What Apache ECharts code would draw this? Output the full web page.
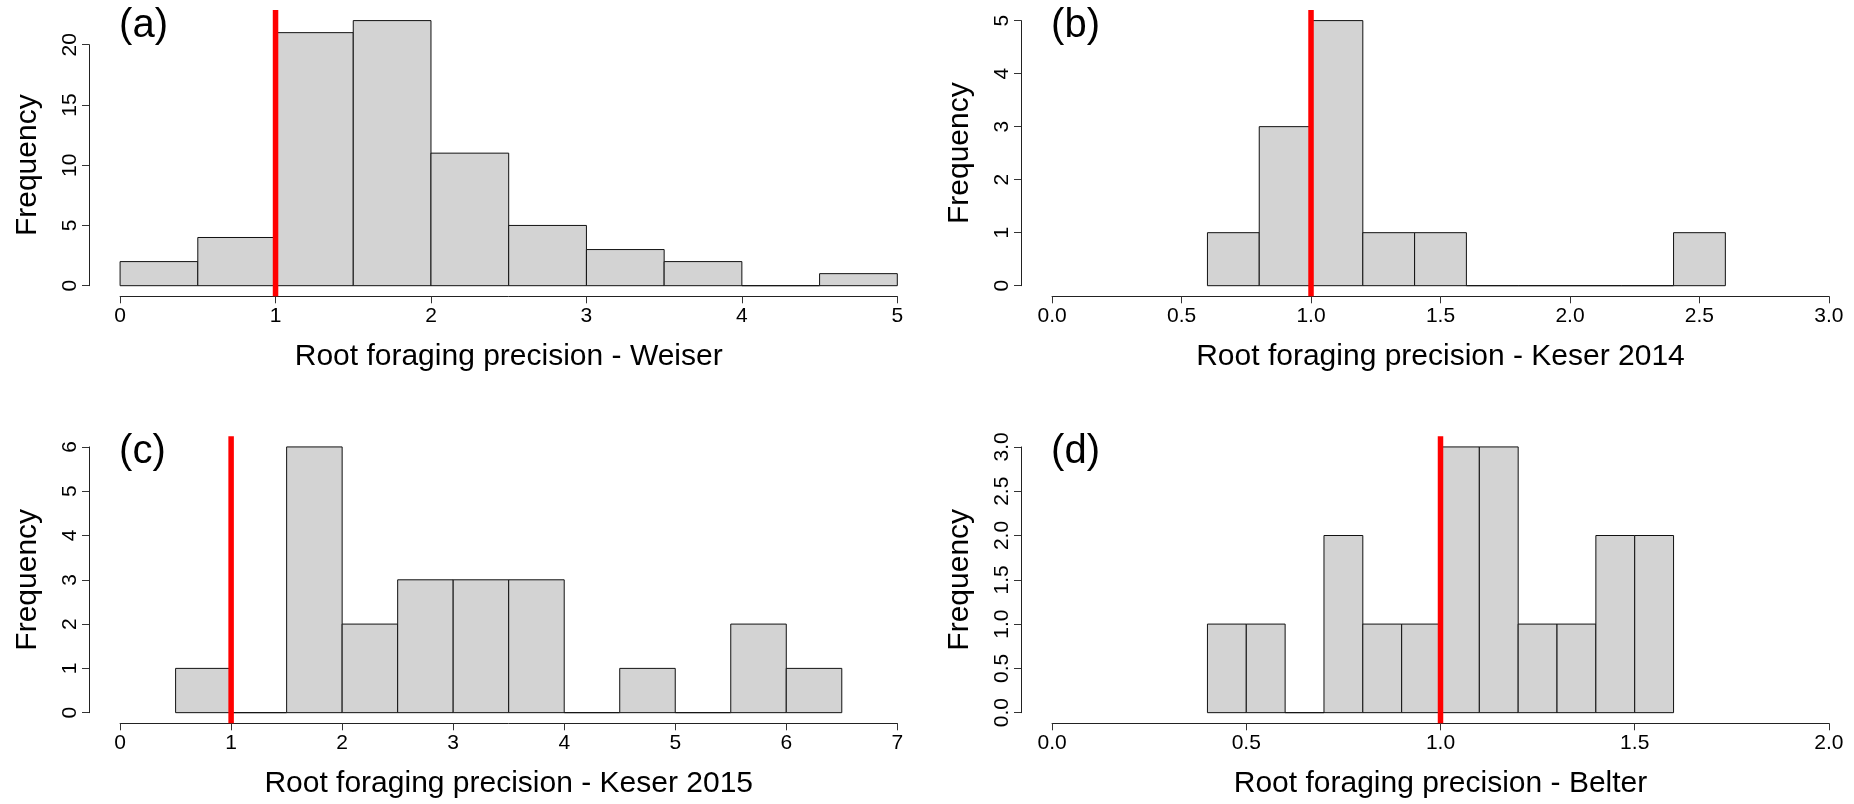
<!DOCTYPE html>
<html lang="en">
<head>
    <meta charset="UTF-8">
    <title>Root foraging precision</title>
    <script src="https://cdn.jsdelivr.net/npm/echarts@6/dist/echarts.min.js"></script>
    <style>
        *{
            margin: 0;
            padding: 0;
        }
        html, body{
            width: 100%;
            height: 100%;
            overflow: hidden;
            background: #fff;
        }
        .container{
            width: 1854px;
            height: 804px;
        }
    </style>
</head>
<body>
<div class="container"></div>
<script>
    // histogram bin edges and counts, one pair per panel
    let weiserBreaks = [0, 0.5, 1, 1.5, 2, 2.5, 3, 3.5, 4, 4.5, 5];
    let weiserCounts = [2, 4, 21, 22, 11, 5, 3, 2, 0, 1];

    let keser14Breaks = [0.6, 0.8, 1.0, 1.2, 1.4, 1.6, 1.8, 2.0, 2.2, 2.4, 2.6];
    let keser14Counts = [1, 3, 5, 1, 1, 0, 0, 0, 0, 1];

    let keser15Breaks = [0.5, 1, 1.5, 2, 2.5, 3, 3.5, 4, 4.5, 5, 5.5, 6, 6.5];
    let keser15Counts = [1, 0, 6, 2, 3, 3, 3, 0, 1, 0, 2, 1];

    let belterBreaks = [0.4, 0.5, 0.6, 0.7, 0.8, 0.9, 1.0, 1.1, 1.2, 1.3, 1.4, 1.5, 1.6];
    let belterCounts = [1, 1, 0, 2, 1, 1, 3, 3, 1, 1, 2, 2];

    // axis ticks
    let weiserXTicks = [0, 1, 2, 3, 4, 5];
    let weiserYTicks = [0, 5, 10, 15, 20];
    let keser14XTicks = [0, 0.5, 1, 1.5, 2, 2.5, 3];
    let keser14YTicks = [0, 1, 2, 3, 4, 5];
    let keser15XTicks = [0, 1, 2, 3, 4, 5, 6, 7];
    let keser15YTicks = [0, 1, 2, 3, 4, 5, 6];
    let belterXTicks = [0, 0.5, 1, 1.5, 2];
    let belterYTicks = [0, 0.5, 1, 1.5, 2, 2.5, 3];

    let tags = ['(a)', '(b)', '(c)', '(d)'];
    let xTitles = ['Root foraging precision - Weiser', 'Root foraging precision - Keser 2014',
        'Root foraging precision - Keser 2015', 'Root foraging precision - Belter'];
    let refValue = 1;

    let panels = [
        {breaks: weiserBreaks, counts: weiserCounts, xt: weiserXTicks, yt: weiserYTicks, xDec: 0, yDec: 0, col: 0, row: 0},
        {breaks: keser14Breaks, counts: keser14Counts, xt: keser14XTicks, yt: keser14YTicks, xDec: 1, yDec: 0, col: 1, row: 0},
        {breaks: keser15Breaks, counts: keser15Counts, xt: keser15XTicks, yt: keser15YTicks, xDec: 0, yDec: 0, col: 0, row: 1},
        {breaks: belterBreaks, counts: belterCounts, xt: belterXTicks, yt: belterYTicks, xDec: 1, yDec: 1, col: 1, row: 1}
    ];

    // plot regions in px: [start, size]
    let cols = [[89, 839.4], [1021, 839]];
    let rows = [[10, 286.3], [436.3, 287]];
    let font = '"Liberation Sans", Arial, Helvetica, sans-serif';

    let grids = [], xAxes = [], yAxes = [], series = [], titles = [];

    panels.forEach((p, i) => {
        let [L, W] = cols[p.col];
        let [T, H] = rows[p.row];
        let x0 = p.xt[0], x1 = p.xt[p.xt.length - 1];
        let ux0 = x0 - 0.04 * (x1 - x0), ux1 = x1 + 0.04 * (x1 - x0);
        let top = Math.max(...p.counts);
        let uy0 = -0.04 * top, uy1 = 1.04 * top;
        let sx = W / (ux1 - ux0), sy = H / (uy1 - uy0);
        let yMax = p.yt[p.yt.length - 1];

        let gLeft = L + (x0 - ux0) * sx;
        let gTop = T + (uy1 - yMax) * sy;
        grids.push({
            left: gLeft, top: gTop,
            width: (x1 - x0) * sx, height: yMax * sy
        });
        xAxes.push({
            gridIndex: i, type: 'value',
            min: x0, max: x1, interval: p.xt[1] - p.xt[0],
            offset: (0 - uy0) * sy,
            name: xTitles[i], nameLocation: 'middle', nameGap: 45,
            nameTextStyle: {fontSize: 30, color: '#000', fontFamily: font},
            axisLine: {show: true, onZero: false, lineStyle: {color: '#222', width: 1}},
            axisTick: {show: true, length: 7, lineStyle: {color: '#333'}},
            axisLabel: {
                fontSize: 21, color: '#000', fontFamily: font, margin: 9, hideOverlap: false,
                formatter: v => v.toFixed(p.xDec)
            },
            splitLine: {show: false}
        });
        yAxes.push({
            gridIndex: i, type: 'value',
            min: 0, max: yMax, interval: p.yt[1] - p.yt[0],
            offset: (x0 - ux0) * sx,
            name: 'Frequency', nameLocation: 'middle', nameRotate: 90, nameGap: 46,
            nameTextStyle: {fontSize: 30, color: '#000', fontFamily: font},
            axisLine: {show: true, onZero: false, lineStyle: {color: '#222', width: 1}},
            axisTick: {show: true, length: 7, lineStyle: {color: '#333'}},
            axisLabel: {
                fontSize: 21, color: '#000', fontFamily: font, rotate: 90, margin: 8, hideOverlap: false,
                formatter: v => v.toFixed(p.yDec)
            },
            splitLine: {show: false}
        });

        let bins = p.counts.map((c, k) => [p.breaks[k], p.breaks[k + 1], c]);
        series.push({
            type: 'custom',
            xAxisIndex: i, yAxisIndex: i,
            clip: false,
            encode: {x: [0, 1], y: 2},
            data: bins,
            renderItem: function (params, api) {
                let a = api.coord([api.value(0), 0]);
                let b = api.coord([api.value(1), api.value(2)]);
                return {
                    type: 'rect',
                    shape: {x: a[0], y: b[1], width: b[0] - a[0], height: a[1] - b[1]},
                    style: {fill: '#d3d3d3', stroke: '#111', lineWidth: 1}
                };
            }
        });
        series.push({
            type: 'line',
            xAxisIndex: i, yAxisIndex: i,
            clip: false, symbol: 'none', silent: true, z: 5,
            data: [[refValue, uy0], [refValue, uy1]],
            lineStyle: {color: '#ff0000', width: 5.5, cap: 'butt'}
        });

        titles.push({
            text: tags[i],
            left: gLeft - 1, top: T - 4, padding: 0,
            textStyle: {fontSize: 40, fontWeight: 'normal', color: '#000', fontFamily: font}
        });
    });

    let chart = echarts.init(document.querySelector('.container'));
    chart.setOption({
        animation: false,
        backgroundColor: '#fff',
        title: titles,
        grid: grids,
        xAxis: xAxes,
        yAxis: yAxes,
        series
    });
</script>
</body>
</html>
